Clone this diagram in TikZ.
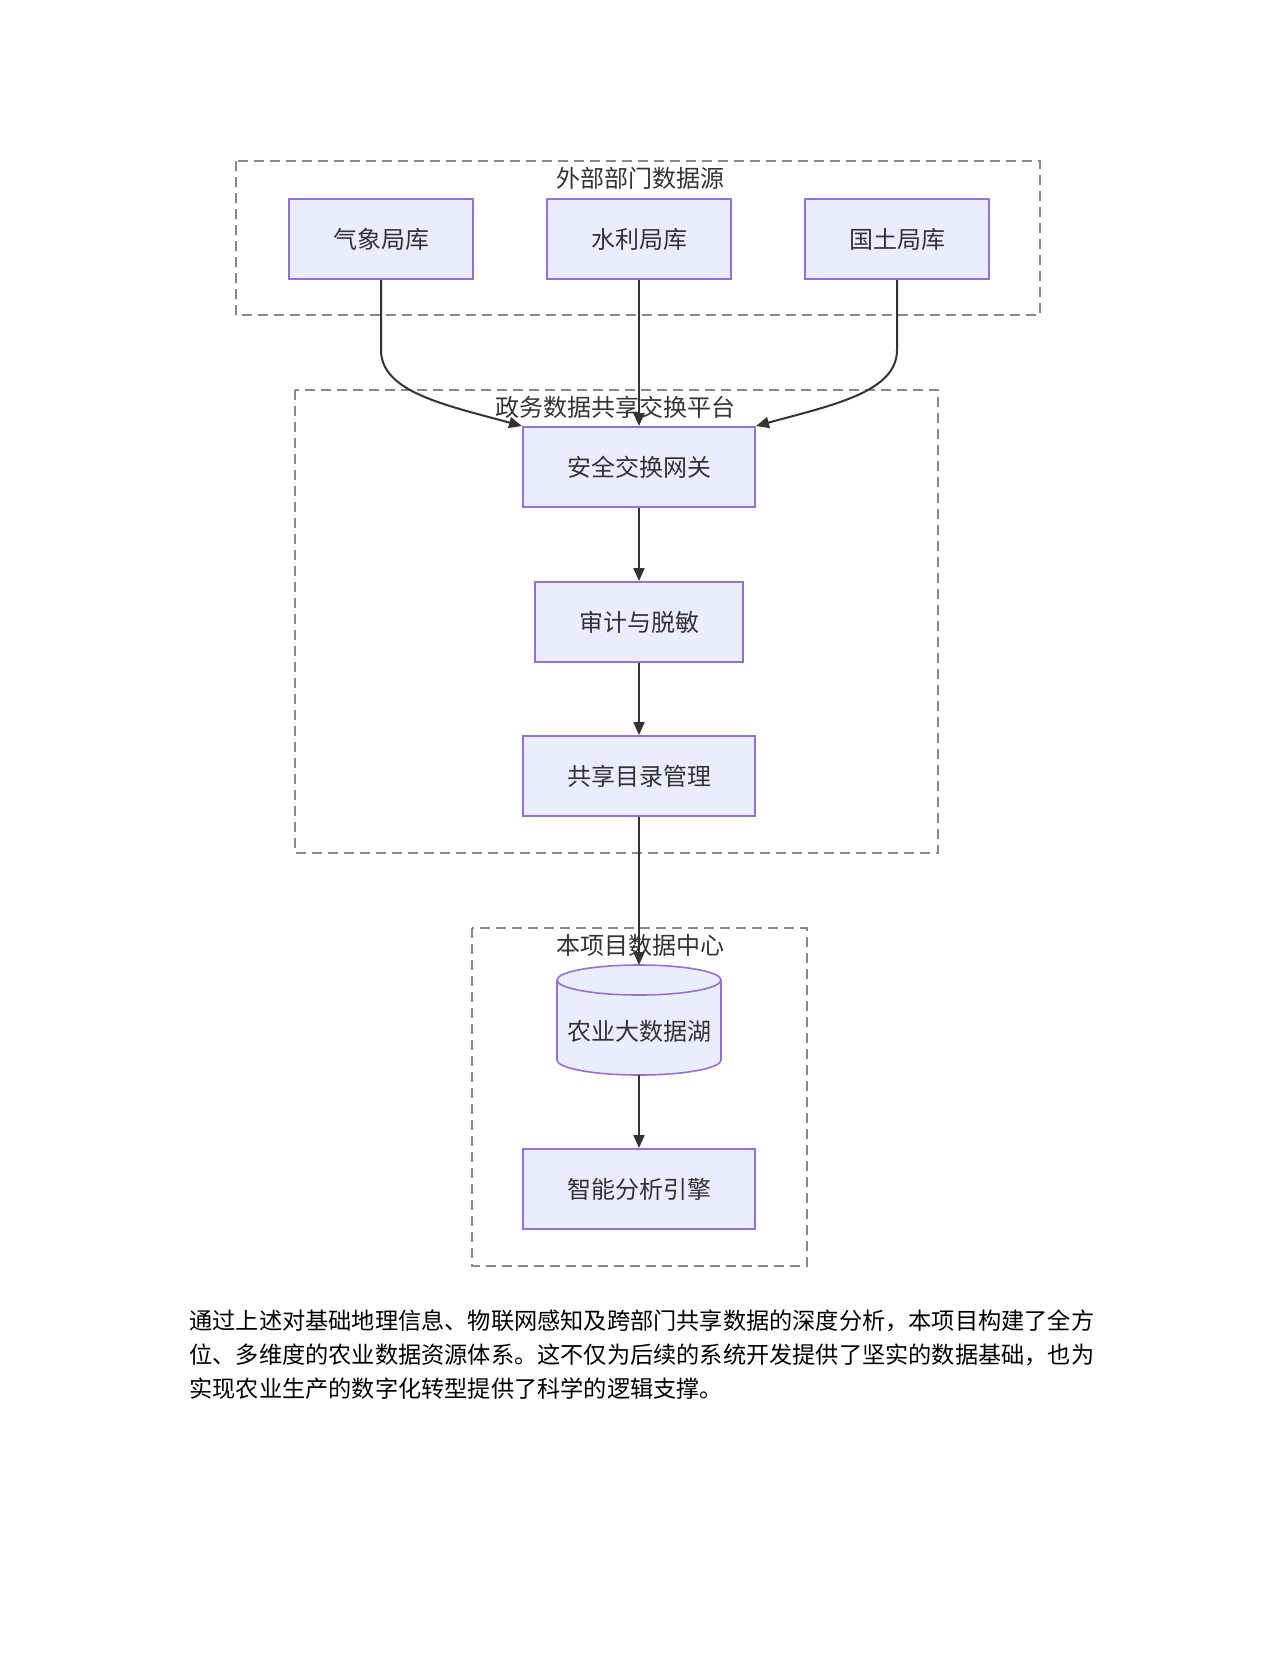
\documentclass[tikz,border=0pt]{standalone}
\usepackage{fontspec}
\setmainfont{Noto Sans CJK SC}
\usetikzlibrary{arrows.meta}
\definecolor{boxfill}{HTML}{ECECFF}
\definecolor{boxline}{HTML}{9370DB}
\definecolor{textgray}{HTML}{333333}
\definecolor{clusterline}{HTML}{888888}

\begin{document}
\begin{tikzpicture}[x=0.5pt,y=-0.5pt,
  box/.style={draw=boxline,fill=boxfill,line width=1pt,minimum height=40pt,inner sep=0pt,text=textgray,font=\fontsize{12}{14}\selectfont},
  cluster/.style={draw=clusterline,line width=1pt,dash pattern=on 5pt off 3pt},
  title/.style={text=textgray,font=\fontsize{12}{14}\selectfont},
  arr/.style={draw=textgray,line width=1pt,-{Triangle[length=6.5pt,width=5.5pt]}},
  para/.style={anchor=base west,inner sep=0pt,font=\fontsize{11.6}{17}\selectfont}]
\useasboundingbox (0,0) rectangle (1280,1656);
% clusters
\draw[cluster] (236,161) rectangle (1040,315);
\node[title] (waibu) at (640,178) {外部部门数据源};
\draw[cluster] (295,390) rectangle (938,853);
\node[title] (zhengwu) at (615,407) {政务数据共享交换平台};
\draw[cluster] (472,928) rectangle (807,1266);
\node[title] (zhongxin) at (640,945) {本项目数据中心};
% sources
\node[box,minimum width=92pt] (qixiang) at (381,239) {气象局库};
\node[box,minimum width=92pt] (shuili) at (639,239) {水利局库};
\node[box,minimum width=92pt] (guotu) at (897,239) {国土局库};
% platform
\node[box,minimum width=116pt] (wangguan) at (639,467) {安全交换网关};
\node[box,minimum width=104pt] (shenji) at (639,622) {审计与脱敏};
\node[box,minimum width=116pt] (mulu) at (639,776) {共享目录管理};
% data lake
\draw[draw=boxline,fill=boxfill,line width=0.8pt] (557,980) -- (557,1060)
  arc[start angle=180,end angle=360,x radius=41pt,y radius=7.5pt] -- (721,980)
  arc[start angle=0,end angle=180,x radius=41pt,y radius=7.5pt];
\draw[draw=boxline,line width=0.8pt] (557,980) arc[start angle=180,end angle=360,x radius=41pt,y radius=7.5pt];
\node[text=textgray,font=\fontsize{12}{14}\selectfont] (hu) at (639,1031) {农业大数据湖};
\coordinate (hutop) at (639,965);
\coordinate (hubottom) at (639,1075);
\node[box,minimum width=116pt] (yinqing) at (639,1189) {智能分析引擎};
% edges
\draw[arr] (qixiang.south) -- (381,350) .. controls (381,392) and (445,405) .. (wangguan.north west);
\draw[arr] (shuili.south) -- (wangguan.north);
\draw[arr] (guotu.south) -- (897,350) .. controls (897,392) and (833,405) .. (wangguan.north east);
\draw[arr] (wangguan) -- (shenji);
\draw[arr] (shenji) -- (mulu);
\draw[arr] (mulu.south) -- (hutop);
\draw[arr] (hubottom) -- (yinqing.north);
% text
\node[para] (line1) at (189,1329) {通过上述对基础地理信息、物联网感知及跨部门共享数据的深度分析，本项目构建了全方};
\node[para] (line2) at (189,1363) {位、多维度的农业数据资源体系。这不仅为后续的系统开发提供了坚实的数据基础，也为};
\node[para] (line3) at (189,1397) {实现农业生产的数字化转型提供了科学的逻辑支撑。};
\end{tikzpicture}
\end{document}
